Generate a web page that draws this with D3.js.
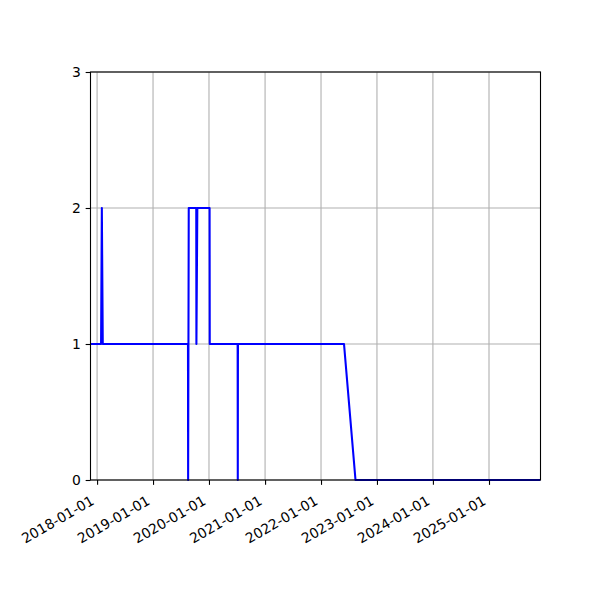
<!DOCTYPE html>
<html>
<head>
<meta charset="utf-8">
<script src="https://cdn.jsdelivr.net/npm/d3@7"></script>
<style>
  body { margin: 0; background: #fff; }
  svg { display: block; }
  text { font-family: "DejaVu Sans", sans-serif; }
</style>
</head>
<body>
<svg id="chart" width="600" height="600"></svg>
<script>
// ---- data ----
const dates = [
  "2017-11-19", "2018-01-27", "2018-02-01", "2018-02-07",
  "2019-08-17", "2019-08-18", "2019-08-22",
  "2019-10-10", "2019-10-11", "2019-10-17",
  "2020-01-05", "2020-01-06",
  "2020-07-06", "2020-07-07", "2020-07-08",
  "2022-05-31", "2022-08-14", "2025-12-03"
];
const values = [
  1, 1, 2, 1,
  1, 0, 2,
  2, 1, 2,
  2, 1,
  1, 0, 1,
  1, 0, 0
];
const xTickLabels = ["2018-01-01","2019-01-01","2020-01-01","2021-01-01","2022-01-01","2023-01-01","2024-01-01","2025-01-01"];
const yTicks = [0, 1, 2, 3];
const xDomain = ["2017-11-19", "2025-12-03"];
const yDomain = [0, 3];

// ---- layout ----
const W = 600, H = 600;
const margin = { left: 90.5, right: 59.5, top: 72, bottom: 120 };
const parse = d3.utcParse("%Y-%m-%d");
const svg = d3.select("#chart");

const x = d3.scaleUtc().domain(xDomain.map(parse)).range([margin.left, W - margin.right]);
const y = d3.scaleLinear().domain(yDomain).range([H - margin.bottom, margin.top]);

const data = dates.map((d, i) => ({ date: parse(d), value: values[i] }));
const xTicks = xTickLabels.map(parse);

const fontPx = 13.9;
const tickLen = 4.86;

// grid
const grid = svg.append("g").attr("stroke", "#b0b0b0").attr("stroke-width", 1.1);
xTicks.forEach(t => {
  grid.append("line").attr("x1", x(t)).attr("x2", x(t)).attr("y1", y(3)).attr("y2", y(0));
});
yTicks.forEach(t => {
  grid.append("line").attr("x1", x.range()[0]).attr("x2", x.range()[1]).attr("y1", y(t)).attr("y2", y(t));
});

// line
const line = d3.line().x(d => x(d.date)).y(d => y(d.value));
const plot = svg.append("g");
plot.append("clipPath").attr("id", "clip").append("rect")
  .attr("x", x.range()[0]).attr("y", y(3) - 2).attr("width", x.range()[1] - x.range()[0]).attr("height", y(0) - y(3) + 4);
plot.append("path").datum(data)
  .attr("clip-path", "url(#clip)")
  .attr("fill", "none").attr("stroke", "#0000ff").attr("stroke-width", 2.08)
  .attr("stroke-linejoin", "round").attr("stroke-linecap", "butt")
  .attr("d", line);

// x axis
const xAxis = d3.axisBottom(x).tickValues(xTicks).tickSize(tickLen).tickPadding(4.86)
  .tickFormat(d3.utcFormat("%Y-%m-%d"));
const gx = svg.append("g").attr("transform", `translate(0,${y(0)})`).call(xAxis);
gx.select(".domain").remove();
gx.selectAll(".tick line").attr("stroke", "#000").attr("stroke-width", 1.1);
gx.selectAll(".tick text")
  .attr("fill", "#000").attr("font-size", fontPx).attr("font-family", "DejaVu Sans")
  .attr("text-anchor", "end").attr("dy", null)
  .attr("y", null).attr("x", null)
  .attr("transform", "translate(-2.5,23.5) rotate(-30)");

// y axis
const yAxis = d3.axisLeft(y).tickValues(yTicks).tickSize(tickLen).tickPadding(4.86).tickFormat(d3.format("d"));
const gy = svg.append("g").attr("transform", `translate(${x.range()[0]},0)`).call(yAxis);
gy.select(".domain").remove();
gy.selectAll(".tick line").attr("stroke", "#000").attr("stroke-width", 1.1);
gy.selectAll(".tick text").attr("fill", "#000").attr("font-size", fontPx).attr("font-family", "DejaVu Sans");

// spines
svg.append("rect")
  .attr("x", x.range()[0]).attr("y", y(3))
  .attr("width", x.range()[1] - x.range()[0]).attr("height", y(0) - y(3))
  .attr("fill", "none").attr("stroke", "#000").attr("stroke-width", 1.1);
</script>
</body>
</html>
